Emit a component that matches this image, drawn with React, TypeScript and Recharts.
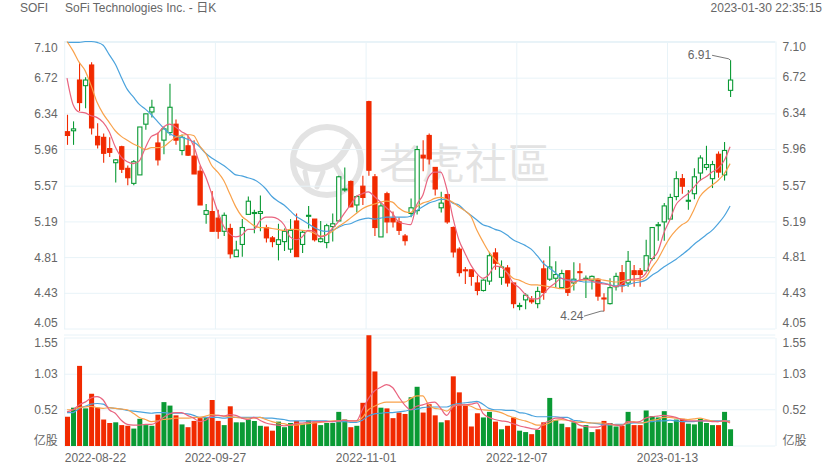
import React from 'react';
import {
  ComposedChart,
  Bar,
  Line,
  Cell,
  XAxis,
  YAxis,
  CartesianGrid,
} from 'recharts';

const dates = [
  '2022-08-22', '2022-08-23', '2022-08-24', '2022-08-25', '2022-08-26', '2022-08-29', '2022-08-30', '2022-08-31',
  '2022-09-01', '2022-09-02', '2022-09-06', '2022-09-07', '2022-09-08', '2022-09-09', '2022-09-12', '2022-09-13',
  '2022-09-14', '2022-09-15', '2022-09-16', '2022-09-19', '2022-09-20', '2022-09-21', '2022-09-22', '2022-09-23',
  '2022-09-26', '2022-09-27', '2022-09-28', '2022-09-29', '2022-09-30', '2022-10-03', '2022-10-04', '2022-10-05',
  '2022-10-06', '2022-10-07', '2022-10-10', '2022-10-11', '2022-10-12', '2022-10-13', '2022-10-14', '2022-10-17',
  '2022-10-18', '2022-10-19', '2022-10-20', '2022-10-21', '2022-10-24', '2022-10-25', '2022-10-26', '2022-10-27',
  '2022-10-28', '2022-10-31', '2022-11-01', '2022-11-02', '2022-11-03', '2022-11-04', '2022-11-07', '2022-11-08',
  '2022-11-09', '2022-11-10', '2022-11-11', '2022-11-14', '2022-11-15', '2022-11-16', '2022-11-17', '2022-11-18',
  '2022-11-21', '2022-11-22', '2022-11-23', '2022-11-25', '2022-11-28', '2022-11-29', '2022-11-30', '2022-12-01',
  '2022-12-02', '2022-12-05', '2022-12-06', '2022-12-07', '2022-12-08', '2022-12-09', '2022-12-12', '2022-12-13',
  '2022-12-14', '2022-12-15', '2022-12-16', '2022-12-19', '2022-12-20', '2022-12-21', '2022-12-22', '2022-12-23',
  '2022-12-27', '2022-12-28', '2022-12-29', '2022-12-30', '2023-01-03', '2023-01-04', '2023-01-05', '2023-01-06',
  '2023-01-09', '2023-01-10', '2023-01-11', '2023-01-12', '2023-01-13', '2023-01-17', '2023-01-18', '2023-01-19',
  '2023-01-20', '2023-01-23', '2023-01-24', '2023-01-25', '2023-01-26', '2023-01-27', '2023-01-30',
];

// empty slots on the right side of the time axis
const emptySlots = ['+1', '+2', '+3', '+4', '+5', '+6', '+7'];

const opens = [
  6.15, 6.16, 6.70, 6.64, 6.86, 6.10, 6.09, 5.97, 5.82, 5.99, 5.76, 5.60, 5.69, 6.23, 6.36, 6.03, 6.06, 6.14, 6.23, 5.95,
  6.00, 5.89, 5.73, 5.27, 5.30, 5.23, 5.09, 5.12, 4.82, 4.95, 5.27, 5.28, 5.28, 5.13, 5.02, 4.95, 4.98, 4.90, 5.20, 4.95,
  5.25, 5.22, 4.98, 4.97, 5.14, 5.20, 5.53, 5.62, 5.37, 5.57, 6.47, 5.67, 5.03, 5.49, 5.23, 5.19, 5.04, 5.28, 5.31, 5.90,
  6.11, 5.77, 5.34, 5.48, 5.13, 4.90, 4.68, 4.68, 4.54, 4.46, 4.56, 4.86, 4.60, 4.70, 4.54, 4.29, 4.36, 4.36, 4.32, 4.69,
  4.58, 4.59, 4.49, 4.67, 4.54, 4.66, 4.58, 4.57, 4.58, 4.38, 4.32, 4.50, 4.65, 4.54, 4.67, 4.67, 4.67, 4.80, 5.15, 5.19,
  5.22, 5.46, 5.65, 5.41, 5.49, 5.71, 5.77, 5.65, 5.91, 5.69, 6.59,
];
const highs = [
  6.33, 6.26, 6.88, 6.73, 6.89, 6.24, 6.13, 6.09, 5.86, 6.00, 5.79, 5.85, 6.20, 6.34, 6.49, 6.14, 6.20, 6.66, 6.28, 6.12,
  6.11, 6.06, 5.79, 5.38, 5.52, 5.32, 5.29, 5.17, 4.99, 5.22, 5.46, 5.32, 5.47, 5.16, 5.04, 5.17, 5.12, 5.22, 5.28, 5.10,
  5.36, 5.22, 5.20, 5.17, 5.28, 5.68, 5.77, 5.63, 5.47, 5.68, 6.48, 5.70, 5.39, 5.51, 5.30, 5.24, 5.06, 5.44, 6.00, 6.06,
  6.13, 5.77, 5.51, 5.49, 5.14, 4.92, 4.71, 4.68, 4.62, 4.58, 4.87, 4.91, 4.78, 4.73, 4.54, 4.33, 4.43, 4.40, 4.50, 4.78,
  4.93, 4.77, 4.68, 4.67, 4.76, 4.75, 4.62, 4.62, 4.59, 4.43, 4.59, 4.65, 4.73, 4.88, 4.73, 4.70, 5.00, 5.13, 5.19, 5.39,
  5.49, 5.73, 5.70, 5.53, 5.76, 5.90, 6.00, 5.84, 5.94, 6.04, 6.91,
];
const lows = [
  6.01, 6.01, 6.37, 6.40, 6.12, 5.97, 5.82, 5.88, 5.61, 5.71, 5.58, 5.58, 5.69, 6.17, 6.30, 5.79, 5.91, 6.11, 6.01, 5.90,
  5.89, 5.70, 5.37, 5.17, 5.09, 5.01, 5.04, 4.80, 4.82, 4.82, 5.27, 5.07, 5.09, 4.97, 4.92, 4.78, 4.88, 4.86, 4.82, 4.86,
  5.12, 4.98, 4.97, 4.91, 4.98, 5.20, 5.51, 5.35, 5.29, 5.37, 5.68, 5.04, 5.03, 5.07, 5.13, 5.05, 4.94, 5.24, 5.27, 5.73,
  5.80, 5.47, 5.29, 5.17, 4.81, 4.61, 4.53, 4.51, 4.41, 4.45, 4.52, 4.68, 4.52, 4.50, 4.27, 4.25, 4.26, 4.32, 4.27, 4.36,
  4.56, 4.49, 4.49, 4.40, 4.46, 4.56, 4.38, 4.47, 4.35, 4.24, 4.31, 4.46, 4.44, 4.50, 4.50, 4.50, 4.67, 4.78, 4.99, 4.99,
  5.22, 5.42, 5.49, 5.32, 5.43, 5.63, 5.74, 5.55, 5.66, 5.63, 6.52,
];
const closes = [
  6.11, 6.18, 6.46, 6.70, 6.19, 6.01, 5.92, 5.93, 5.85, 5.75, 5.66, 5.83, 6.20, 6.34, 6.41, 5.85, 6.18, 6.41, 6.06, 6.09,
  5.90, 5.70, 5.37, 5.31, 5.09, 5.09, 5.26, 4.85, 4.89, 5.13, 5.41, 5.29, 5.30, 5.02, 4.98, 5.00, 5.09, 5.10, 4.82, 5.08,
  5.26, 5.00, 5.01, 5.15, 5.17, 5.67, 5.54, 5.35, 5.46, 5.45, 5.74, 5.13, 5.36, 5.19, 5.19, 5.10, 4.99, 5.34, 5.96, 5.87,
  5.86, 5.54, 5.39, 5.19, 4.87, 4.65, 4.67, 4.61, 4.46, 4.57, 4.83, 4.75, 4.71, 4.54, 4.32, 4.30, 4.41, 4.34, 4.45, 4.44,
  4.71, 4.63, 4.64, 4.44, 4.58, 4.65, 4.59, 4.61, 4.40, 4.37, 4.49, 4.61, 4.51, 4.77, 4.63, 4.63, 4.83, 5.13, 5.16, 5.36,
  5.45, 5.65, 5.57, 5.42, 5.67, 5.87, 5.80, 5.80, 5.72, 5.95, 6.70,
];

const priceMaShort = [
  6.72, 6.44, 6.36, 6.35, 6.32, 6.30, 6.25, 6.15, 5.99, 5.88, 5.83, 5.81, 5.84, 5.98, 6.10, 6.13, 6.20, 6.23, 6.20, 6.15,
  6.11, 6.00, 5.81, 5.67, 5.49, 5.30, 5.14, 5.06, 5.03, 5.05, 5.11, 5.11, 5.20, 5.24, 5.24, 5.22, 5.16, 5.03, 5.00, 5.03,
  5.10, 5.09, 5.03, 5.05, 5.12, 5.19, 5.28, 5.37, 5.46, 5.49, 5.51, 5.46, 5.40, 5.34, 5.28, 5.19, 5.17, 5.16, 5.37, 5.47,
  5.67, 5.72, 5.72, 5.54, 5.24, 5.00, 4.86, 4.73, 4.64, 4.59, 4.63, 4.72, 4.71, 4.65, 4.54, 4.49, 4.42, 4.37, 4.37, 4.42,
  4.49, 4.54, 4.59, 4.57, 4.55, 4.57, 4.58, 4.56, 4.54, 4.53, 4.52, 4.50, 4.53, 4.57, 4.58, 4.59, 4.64, 4.79, 4.87, 5.07,
  5.21, 5.37, 5.44, 5.49, 5.56, 5.63, 5.67, 5.72, 5.76, 5.84, 5.99,
];
const priceMaMid = [
  7.11, 7.01, 6.89, 6.80, 6.64, 6.46, 6.34, 6.25, 6.16, 6.10, 6.06, 6.02, 5.99, 5.96, 5.98, 5.98, 5.99, 6.04, 6.09, 6.11,
  6.12, 6.11, 6.00, 5.92, 5.79, 5.72, 5.63, 5.49, 5.35, 5.25, 5.20, 5.15, 5.13, 5.13, 5.12, 5.11, 5.10, 5.11, 5.11, 5.10,
  5.09, 5.07, 5.04, 5.05, 5.09, 5.14, 5.18, 5.23, 5.28, 5.33, 5.36, 5.38, 5.40, 5.41, 5.40, 5.34, 5.30, 5.29, 5.35, 5.39,
  5.41, 5.44, 5.45, 5.43, 5.40, 5.35, 5.31, 5.25, 5.10, 4.98, 4.87, 4.79, 4.72, 4.65, 4.59, 4.57, 4.54, 4.52, 4.52, 4.51,
  4.50, 4.49, 4.48, 4.48, 4.52, 4.57, 4.57, 4.58, 4.58, 4.57, 4.56, 4.55, 4.56, 4.57, 4.57, 4.57, 4.60, 4.70, 4.79, 4.91,
  5.02, 5.10, 5.16, 5.20, 5.32, 5.46, 5.53, 5.58, 5.63, 5.70, 5.81,
];
const priceMaLong = [
  7.10, 7.10, 7.10, 7.11, 7.11, 7.10, 7.07, 6.97, 6.87, 6.73, 6.60, 6.52, 6.44, 6.39, 6.33, 6.26, 6.19, 6.13, 6.10, 6.09,
  6.07, 6.04, 5.99, 5.92, 5.87, 5.83, 5.79, 5.74, 5.69, 5.68, 5.66, 5.64, 5.60, 5.54, 5.46, 5.41, 5.37, 5.31, 5.25, 5.21,
  5.17, 5.13, 5.10, 5.09, 5.10, 5.13, 5.16, 5.17, 5.20, 5.22, 5.23, 5.22, 5.23, 5.24, 5.24, 5.24, 5.24, 5.25, 5.31, 5.35,
  5.39, 5.41, 5.43, 5.43, 5.39, 5.37, 5.31, 5.26, 5.21, 5.16, 5.14, 5.11, 5.09, 5.05, 5.00, 4.97, 4.94, 4.90, 4.83, 4.75,
  4.70, 4.65, 4.59, 4.57, 4.57, 4.56, 4.55, 4.55, 4.55, 4.54, 4.52, 4.51, 4.51, 4.52, 4.54, 4.55, 4.57, 4.62, 4.66, 4.71,
  4.75, 4.79, 4.84, 4.89, 4.95, 5.00, 5.05, 5.10, 5.17, 5.25, 5.36,
];

const volumes = [
  0.42, 0.55, 1.15, 0.54, 0.75, 0.55, 0.38, 0.33, 0.34, 0.30, 0.29, 0.25, 0.39, 0.30, 0.29, 0.45, 0.63, 0.58, 0.44, 0.31,
  0.27, 0.36, 0.40, 0.40, 0.66, 0.36, 0.30, 0.57, 0.34, 0.34, 0.38, 0.36, 0.29, 0.28, 0.22, 0.35, 0.27, 0.33, 0.36, 0.32,
  0.37, 0.34, 0.30, 0.33, 0.33, 0.49, 0.38, 0.27, 0.29, 0.62, 1.59, 1.07, 0.55, 0.54, 0.40, 0.48, 0.46, 0.70, 0.85, 0.48,
  0.60, 0.44, 0.34, 0.37, 1.00, 0.77, 0.58, 0.28, 0.47, 0.41, 0.49, 0.35, 0.24, 0.29, 0.41, 0.22, 0.20, 0.17, 0.23, 0.34,
  0.69, 0.37, 0.32, 0.27, 0.34, 0.25, 0.30, 0.20, 0.24, 0.36, 0.33, 0.28, 0.29, 0.49, 0.30, 0.30, 0.51, 0.43, 0.41, 0.50,
  0.33, 0.38, 0.39, 0.32, 0.31, 0.39, 0.33, 0.30, 0.30, 0.49, 0.24,
];
const volMaShort = [
  0.49, 0.52, 0.59, 0.63, 0.69, 0.71, 0.66, 0.52, 0.47, 0.37, 0.31, 0.30, 0.30, 0.31, 0.31, 0.35, 0.41, 0.46, 0.48, 0.48,
  0.44, 0.40, 0.35, 0.37, 0.43, 0.44, 0.43, 0.45, 0.44, 0.40, 0.38, 0.41, 0.37, 0.33, 0.31, 0.30, 0.29, 0.30, 0.32, 0.33,
  0.34, 0.35, 0.35, 0.35, 0.35, 0.36, 0.37, 0.36, 0.36, 0.52, 0.68, 0.79, 0.84, 0.88, 0.84, 0.71, 0.59, 0.52, 0.57, 0.59,
  0.62, 0.63, 0.54, 0.44, 0.56, 0.59, 0.59, 0.60, 0.62, 0.47, 0.41, 0.38, 0.36, 0.35, 0.32, 0.29, 0.27, 0.25, 0.24, 0.32,
  0.36, 0.40, 0.40, 0.37, 0.35, 0.30, 0.28, 0.27, 0.27, 0.30, 0.32, 0.30, 0.29, 0.35, 0.34, 0.35, 0.40, 0.42, 0.43, 0.44,
  0.43, 0.41, 0.38, 0.36, 0.36, 0.36, 0.36, 0.35, 0.35, 0.36, 0.33,
];
const volMaMid = [
  0.52, 0.52, 0.55, 0.56, 0.57, 0.55, 0.54, 0.55, 0.54, 0.53, 0.52, 0.47, 0.41, 0.38, 0.35, 0.36, 0.38, 0.39, 0.40, 0.40,
  0.40, 0.41, 0.41, 0.43, 0.45, 0.44, 0.43, 0.42, 0.41, 0.40, 0.40, 0.40, 0.41, 0.38, 0.35, 0.33, 0.32, 0.30, 0.30, 0.31,
  0.32, 0.33, 0.34, 0.35, 0.36, 0.36, 0.37, 0.36, 0.36, 0.41, 0.52, 0.57, 0.61, 0.63, 0.63, 0.63, 0.63, 0.68, 0.72, 0.72,
  0.59, 0.54, 0.53, 0.50, 0.57, 0.59, 0.59, 0.57, 0.53, 0.52, 0.51, 0.50, 0.48, 0.44, 0.41, 0.38, 0.36, 0.33, 0.30, 0.30,
  0.33, 0.37, 0.38, 0.37, 0.35, 0.34, 0.34, 0.33, 0.33, 0.33, 0.31, 0.30, 0.30, 0.33, 0.35, 0.33, 0.34, 0.37, 0.38, 0.41,
  0.41, 0.40, 0.39, 0.38, 0.39, 0.40, 0.38, 0.36, 0.35, 0.36, 0.35,
];
const volMaLong = [
  0.48, 0.48, 0.54, 0.57, 0.60, 0.61, 0.60, 0.55, 0.54, 0.53, 0.51, 0.50, 0.49, 0.48, 0.47, 0.48, 0.48, 0.47, 0.47, 0.47,
  0.46, 0.44, 0.41, 0.41, 0.41, 0.41, 0.40, 0.41, 0.41, 0.41, 0.41, 0.41, 0.41, 0.40, 0.40, 0.39, 0.38, 0.36, 0.36, 0.36,
  0.36, 0.36, 0.36, 0.36, 0.35, 0.35, 0.35, 0.34, 0.34, 0.37, 0.43, 0.46, 0.47, 0.48, 0.48, 0.49, 0.50, 0.52, 0.53, 0.55,
  0.56, 0.56, 0.56, 0.56, 0.59, 0.61, 0.62, 0.63, 0.64, 0.60, 0.54, 0.52, 0.52, 0.51, 0.51, 0.48, 0.47, 0.44, 0.42, 0.42,
  0.42, 0.42, 0.41, 0.41, 0.37, 0.36, 0.34, 0.33, 0.32, 0.31, 0.30, 0.31, 0.31, 0.32, 0.33, 0.33, 0.34, 0.35, 0.36, 0.36,
  0.37, 0.36, 0.35, 0.35, 0.35, 0.36, 0.36, 0.36, 0.36, 0.36, 0.36,
];

const priceTicks = [7.1, 6.72, 6.34, 5.96, 5.57, 5.19, 4.81, 4.43, 4.05];
const volumeTicks = [1.55, 1.03, 0.52, 0];
const dateTicks = ['2022-08-22', '2022-09-27', '2022-11-01', '2022-12-07', '2023-01-13'];

const RED = '#f12a00';
const GREEN = '#0a9a34';
const PINK = '#e9647f';
const ORANGE = '#f9a24b';
const BLUE = '#4ba3dd';
const GRID = '#e8f3f8';
const TEXT = '#666';
const FONT = '"Liberation Sans", "Noto Sans CJK SC", sans-serif';

const slots = [...dates, ...emptySlots];
const table = slots.map((date, i) => ({
  date,
  open: opens[i],
  high: highs[i],
  low: lows[i],
  close: closes[i],
  maShort: priceMaShort[i],
  maMid: priceMaMid[i],
  maLong: priceMaLong[i],
  volume: volumes[i],
  volShort: volMaShort[i],
  volMid: volMaMid[i],
  volLong: volMaLong[i],
}));

const maxIndex = highs.indexOf(Math.max(...highs));
const minIndex = lows.indexOf(Math.min(...lows));

const Candle = (props: any) => {
  const { x, y, width, height, payload, index } = props;
  if (payload.high === undefined) return <g />;
  const cx = x + width / 2;
  const k = height / (payload.high - payload.low);
  const up = payload.close >= payload.open;
  const color = up ? GREEN : RED;
  const top = y + (payload.high - Math.max(payload.open, payload.close)) * k;
  const bottom = y + (payload.high - Math.min(payload.open, payload.close)) * k;
  const yLow = y + height;
  return (
    <g>
      <line x1={cx} x2={cx} y1={y} y2={yLow} stroke={color} strokeWidth={1.1} />
      <rect
        x={cx - 2.1}
        y={top}
        width={4.2}
        height={Math.max(bottom - top, 1)}
        fill={up ? '#fff' : color}
        stroke={color}
        strokeWidth={1.1}
      />
      {index === maxIndex && (
        <g>
          <polyline points={`${cx},${y} ${cx - 2},${y - 1.5} ${cx - 18.5},${y - 5}`} fill="none" stroke="#555" strokeWidth={0.8} />
          <text x={cx - 19.5} y={y - 5} textAnchor="end" dominantBaseline="central" fontSize={12} fill={TEXT} fontFamily={FONT}>
            {payload.high.toFixed(2)}
          </text>
        </g>
      )}
      {index === minIndex && (
        <g>
          <polyline points={`${cx},${yLow} ${cx - 3},${yLow} ${cx - 20},${yLow + 5}`} fill="none" stroke="#555" strokeWidth={0.8} />
          <text x={cx - 20.5} y={yLow + 5} textAnchor="end" dominantBaseline="central" fontSize={12} fill={TEXT} fontFamily={FONT}>
            {payload.low.toFixed(2)}
          </text>
        </g>
      )}
    </g>
  );
};

const priceTick = (side: string) => (props: any) => {
  const { x, y, payload } = props;
  const v = payload.value;
  let dy = 0;
  if (v === priceTicks[0]) dy = 5.5;
  if (v === priceTicks[priceTicks.length - 1]) dy = -6;
  return (
    <text x={x} y={y + dy} textAnchor={side === 'left' ? 'end' : 'start'} dominantBaseline="central" fontSize={12} fill={TEXT} fontFamily={FONT}>
      {v.toFixed(2)}
    </text>
  );
};

const volumeTick = (side: string) => (props: any) => {
  const { x, y, payload } = props;
  const v = payload.value;
  let dy = 0;
  if (v === volumeTicks[0]) dy = 4.5;
  if (v === 0) dy = -5;
  return (
    <text x={x} y={y + dy} textAnchor={side === 'left' ? 'end' : 'start'} dominantBaseline="central" fontSize={12} fill={TEXT} fontFamily={FONT}>
      {v === 0 ? '亿股' : v.toFixed(2)}
    </text>
  );
};

const DateTick = (props: any) => {
  const { x, y, payload, index } = props;
  return (
    <text
      x={x - 2.3}
      y={y + 10}
      textAnchor={index === 0 ? 'start' : 'middle'}
      dominantBaseline="central"
      fontSize={12}
      fill={TEXT}
      fontFamily={FONT}
    >
      {payload.value}
    </text>
  );
};

// grid lines sit on the left edge of a date's slot, plus both chart edges
const gridColumns = ({ offset }: any) => {
  const step = offset.width / slots.length;
  const cols = dateTicks.map((d) => offset.left + 0.7 + step * slots.indexOf(d));
  return [...cols, offset.left + offset.width + 0.7];
};

const Watermark = () => (
  <svg width={840} height={470} style={{ position: 'absolute', left: 0, top: 0 }}>
    <g fill="none" stroke="#e3e3e3" strokeLinecap="round">
      <circle cx={327} cy={161} r={34} strokeWidth={6} />
      <path d="M294 160 Q315 176 335 162 Q345 153 349 142" strokeWidth={7} />
      <path d="M305 172 L308 187 M323 172 L317 187 M335 165 L342 177" strokeWidth={5} />
    </g>
    <text x={379} y={179} fontSize={42} letterSpacing={1} fill="#e3e3e3" fontFamily='"Noto Sans CJK TC"'>
      老虎社區
    </text>
  </svg>
);

const Header = () => (
  <div style={{ position: 'absolute', left: 0, top: 0, width: 840, height: 16, fontFamily: FONT, fontSize: 12, color: TEXT, lineHeight: '16px' }}>
    <span style={{ position: 'absolute', left: 20, top: 0 }}>SOFI</span>
    <span style={{ position: 'absolute', left: 65, top: 0 }}>SoFi Technologies Inc. - 日K</span>
    <span style={{ position: 'absolute', right: 18, top: 0 }}>2023-01-30 22:35:15</span>
  </div>
);

export default function App() {
  return (
    <div style={{ position: 'absolute', left: 0, top: 0, width: 840, height: 470, background: '#fff', overflow: 'hidden' }}>
      <Watermark />
      <Header />

      <div style={{ position: 'absolute', left: 0, top: 0 }}>
        <ComposedChart width={840} height={340} data={table} margin={{ top: 41.5, right: 0, bottom: 11, left: 0 }} barCategoryGap={0}>
          <CartesianGrid stroke={GRID} yAxisId="left" verticalCoordinatesGenerator={gridColumns} />
          <XAxis dataKey="date" hide interval={0} />
          <YAxis
            yAxisId="left"
            orientation="left"
            width={64}
            domain={[4.05, 7.1]}
            ticks={priceTicks}
            interval={0}
            axisLine={false}
            tickLine={false}
            tickSize={0}
            tickMargin={6.3}
            tick={priceTick('left')}
          />
          <YAxis
            yAxisId="right"
            orientation="right"
            width={64.7}
            domain={[4.05, 7.1]}
            ticks={priceTicks}
            interval={0}
            axisLine={false}
            tickLine={false}
            tickSize={0}
            tickMargin={7.2}
            tick={priceTick('right')}
          />
          <Bar yAxisId="left" dataKey={(d: any) => (d.high === undefined ? null : [d.low, d.high])} barSize={5} shape={<Candle />} isAnimationActive={false} />
          <Line yAxisId="left" dataKey="maLong" type="monotone" stroke={BLUE} strokeWidth={1.2} dot={false} isAnimationActive={false} />
          <Line yAxisId="left" dataKey="maMid" type="monotone" stroke={ORANGE} strokeWidth={1.2} dot={false} isAnimationActive={false} />
          <Line yAxisId="left" dataKey="maShort" type="monotone" stroke={PINK} strokeWidth={1.2} dot={false} isAnimationActive={false} />
          <Line yAxisId="right" dataKey="maShort" stroke="none" dot={false} isAnimationActive={false} legendType="none" />
        </ComposedChart>
      </div>

      <div style={{ position: 'absolute', left: 0, top: 330 }}>
        <ComposedChart width={840} height={140} data={table} margin={{ top: 5, right: 0, bottom: 0, left: 0 }} barCategoryGap={0}>
          <CartesianGrid
            stroke={GRID}
            yAxisId="left"
            verticalCoordinatesGenerator={gridColumns}
            vertical={(p: any) => <line key={p.key} x1={p.x1} x2={p.x2} y1={p.y1 + 3} y2={p.y2} stroke={GRID} />}
          />
          <XAxis dataKey="date" height={24} ticks={dateTicks} interval={0} axisLine={false} tickLine={false} tickSize={0} tick={<DateTick />} />
          <YAxis
            yAxisId="left"
            orientation="left"
            width={64}
            domain={[0, 1.5933]}
            ticks={volumeTicks}
            interval={0}
            axisLine={false}
            tickLine={false}
            tickSize={0}
            tickMargin={6.3}
            tick={volumeTick('left')}
          />
          <YAxis
            yAxisId="right"
            orientation="right"
            width={64.7}
            domain={[0, 1.5933]}
            ticks={volumeTicks}
            interval={0}
            axisLine={false}
            tickLine={false}
            tickSize={0}
            tickMargin={7.2}
            tick={volumeTick('right')}
          />
          <Bar yAxisId="left" dataKey="volume" barSize={5} isAnimationActive={false}>
            {table.map((d, i) => (
              <Cell key={`cell-${i}`} fill={d.close >= d.open ? GREEN : RED} />
            ))}
          </Bar>
          <Line yAxisId="left" dataKey="volLong" type="monotone" stroke={BLUE} strokeWidth={1.2} dot={false} isAnimationActive={false} />
          <Line yAxisId="left" dataKey="volMid" type="monotone" stroke={ORANGE} strokeWidth={1.2} dot={false} isAnimationActive={false} />
          <Line yAxisId="left" dataKey="volShort" type="monotone" stroke={PINK} strokeWidth={1.2} dot={false} isAnimationActive={false} />
          <Line yAxisId="right" dataKey="volShort" stroke="none" dot={false} isAnimationActive={false} legendType="none" />
        </ComposedChart>
      </div>
    </div>
  );
}
